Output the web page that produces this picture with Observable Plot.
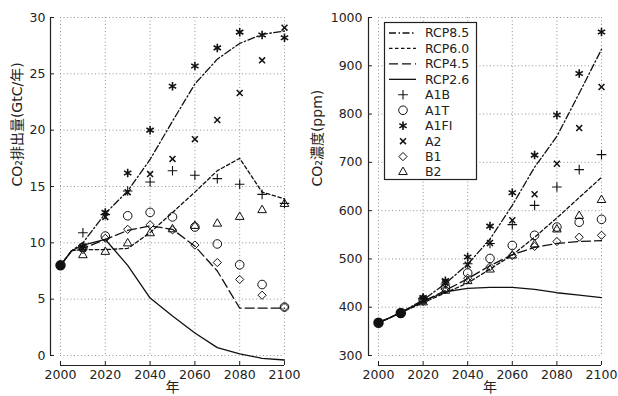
<!DOCTYPE html>
<html><head><meta charset="utf-8">
<script src="https://cdn.jsdelivr.net/npm/d3@7"></script>
<script src="https://cdn.jsdelivr.net/npm/@observablehq/plot@0.6"></script>
<style>
body{margin:0;background:#fff;}
#wrap{position:relative;width:618px;height:396px;display:flex;}
#wrap svg{font-family:"DejaVu Sans","Noto Sans CJK JP",sans-serif;overflow:visible;}
#legend{position:absolute;left:384px;top:22px;}
</style></head><body><div id="wrap"></div>
<script>
// ---- data ----
const rcpYears = [2000, 2005, 2010, 2020, 2030, 2040, 2050, 2060, 2070, 2080, 2090, 2100];
const rcpNames = ["RCP8.5", "RCP6.0", "RCP4.5", "RCP2.6"];
// emissions (GtC/yr)
const emisRCP85 = [8.0, 9.3, 10.0, 12.6, 14.6, 17.4, 20.8, 24.1, 26.3, 27.7, 28.5, 28.8];
const emisRCP60 = [8.0, 9.3, 9.4, 9.4, 9.5, 10.9, 12.7, 14.5, 16.4, 17.5, 14.5, 13.9];
const emisRCP45 = [8.0, 9.3, 9.5, 10.3, 11.1, 11.5, 11.2, 9.7, 7.5, 4.2, 4.2, 4.2];
const emisRCP26 = [8.0, 9.3, 9.8, 10.3, 8.0, 5.1, 3.5, 2.0, 0.7, 0.15, -0.25, -0.4];
// concentrations (ppm)
const concRCP85 = [368, 378, 389, 415, 449, 489, 541, 611, 690, 754, 843, 934];
const concRCP60 = [368, 378, 389, 409, 430, 450, 479, 508, 545, 585, 627, 669];
const concRCP45 = [368, 378, 389, 412, 435, 459, 486, 509, 524, 532, 536, 538];
const concRCP26 = [368, 378, 389, 412, 432, 439, 441, 441, 437, 430, 425, 420];

const sresNames = ["A1B", "A1T", "A1FI", "A2", "B1", "B2"];
const emisYears = [2010, 2020, 2030, 2040, 2050, 2060, 2070, 2080, 2090, 2100];
const emisA1B  = [10.9, 12.5, 14.6, 15.4, 16.4, 16.0, 15.7, 15.2, 14.3, 13.5];
const emisA1T  = [9.6, 10.6, 12.4, 12.7, 12.3, 11.4, 9.9, 8.05, 6.3, 4.3];
const emisA1FI = [9.7, 12.7, 16.2, 20.0, 23.9, 25.7, 27.3, 28.7, 28.45, 28.2];
const emisA2   = [9.5, 12.3, 14.5, 16.1, 17.45, 19.2, 20.9, 23.3, 26.2, 29.1];
const emisB1   = [9.4, 10.4, 11.2, 11.6, 11.15, 9.8, 8.25, 6.75, 5.35, 4.3];
const emisB2   = [8.9, 9.2, 9.95, 10.85, 11.2, 11.5, 11.7, 12.3, 12.9, 13.45];

const concYears = [2020, 2030, 2040, 2050, 2060, 2070, 2080, 2090, 2100];
const concA1B  = [418, 448, 490, 532, 571, 611, 649, 685, 716];
const concA1T  = [416, 441, 471, 501, 528, 549, 566, 576, 582];
const concA1FI = [420, 455, 504, 568, 637, 715, 798, 884, 970];
const concA2   = [415, 450, 488, 533, 580, 634, 697, 771, 856];
const concB1   = [412, 437, 460, 484, 507, 526, 536, 545, 549];
const concB2   = [410, 434, 454, 478, 507, 530, 561, 589, 622];

const obsEmisYears = [2000];
const obsEmis = [8.0];
const obsConcYears = [2000, 2010];
const obsConc = [368, 388];

const xTicks = [2000, 2020, 2040, 2060, 2080, 2100];
const emisTicks = [0, 5, 10, 15, 20, 25, 30];
const concTicks = [300, 400, 500, 600, 700, 800, 900, 1000];

// ---- styles ----
const dash = {"RCP8.5": "7,2.5,1.5,2.5", "RCP6.0": "3.5,2.5", "RCP4.5": "9,4", "RCP2.6": null};
const sym = {
  A1B: {symbol: "plus", r: 3.2, sw: 1.1},
  A1T: {symbol: "circle", r: 4.3, sw: 1},
  A1FI: {symbol: "asterisk", r: 4.0, sw: 1.6},
  A2: {symbol: "times", r: 2.8, sw: 1.5},
  B1: {symbol: "diamond2", r: 3.7, sw: 1},
  B2: {symbol: "triangle", r: 3.2, sw: 1}
};
const ink = "#111";

function rows(xs, ys) { return xs.map((x, i) => ({x, y: ys[i]})); }

function panel({rcp, sres, sresYears, obsX, obsY, yDomain, yTicks, ylabel, marginLeft, marginRight, ylabDx, tickPad}) {
  const marks = [
    Plot.gridX(xTicks, {stroke: "#888", strokeOpacity: 0.9, strokeDasharray: "1,2.5"}),
    Plot.gridY(yTicks, {stroke: "#888", strokeOpacity: 0.9, strokeDasharray: "1,2.5"}),
    Plot.ruleX([2000], {y1: yDomain[0], y2: yDomain[1], dx: -10, stroke: "#222", strokeWidth: 1.2}),
    Plot.ruleY([yDomain[0]], {x1: 2000, x2: 2100, dy: 10, stroke: "#222", strokeWidth: 1.2}),
    Plot.axisX(xTicks, {tickSize: -4, tickPadding: 9, dy: 10, tickFormat: d => String(d), label: null, fontSize: 12.5, stroke: "#222"}),
    Plot.axisY(yTicks, {tickSize: -4, tickPadding: tickPad, dx: -10, tickFormat: d => String(d), label: null, fontSize: 12.5, stroke: "#222"})
  ];
  rcpNames.forEach((n, i) => {
    marks.push(Plot.line(rows(rcpYears, rcp[i]), {x: "x", y: "y", stroke: ink, strokeWidth: 1.3,
      strokeDasharray: dash[n] || undefined}));
  });
  sresNames.forEach((n, i) => {
    const s = sym[n];
    marks.push(Plot.dot(rows(sresYears, sres[i]), {x: "x", y: "y", symbol: s.symbol, r: s.r,
      stroke: ink, strokeWidth: s.sw, fill: "none"}));
  });
  marks.push(Plot.dot(rows(obsX, obsY), {x: "x", y: "y", r: 4.5, fill: ink, stroke: ink}));
  marks.push(Plot.text([ylabel], {frameAnchor: "left", rotate: -90, dx: ylabDx, fontSize: 14, fill: "#222"}));
  marks.push(Plot.text(["年"], {frameAnchor: "bottom", dy: 36, fontSize: 14, fill: "#222"}));
  return Plot.plot({
    width: 309, height: 396,
    marginLeft, marginRight, marginTop: 17, marginBottom: 41,
    style: {color: "#222", background: "transparent", fontFamily: '"DejaVu Sans","Noto Sans CJK JP",sans-serif'},
    x: {domain: [2000, 2100]},
    y: {domain: yDomain},
    marks
  });
}

const wrap = document.getElementById("wrap");
wrap.appendChild(panel({
  rcp: [emisRCP85, emisRCP60, emisRCP45, emisRCP26],
  sres: [emisA1B, emisA1T, emisA1FI, emisA2, emisB1, emisB2],
  sresYears: emisYears, obsX: obsEmisYears, obsY: obsEmis,
  yDomain: [0, 30], yTicks: emisTicks, ylabel: "CO₂排出量(GtC/年)",
  marginLeft: 60, marginRight: 25, ylabDx: -43, tickPad: 9
}));
wrap.appendChild(panel({
  rcp: [concRCP85, concRCP60, concRCP45, concRCP26],
  sres: [concA1B, concA1T, concA1FI, concA2, concB1, concB2],
  sresYears: concYears, obsX: obsConcYears, obsY: obsConc,
  yDomain: [300, 1000], yTicks: concTicks, ylabel: "CO₂濃度(ppm)",
  marginLeft: 69, marginRight: 17, ylabDx: -61, tickPad: 10
}));

// ---- legend ----
const legendItems = rcpNames.concat(sresNames);
const lw = 92, lh = 157, rowH = 15.45;
const lg = d3.select(wrap).append("svg").attr("id", "legend").attr("width", lw + 2).attr("height", lh + 2);
lg.append("rect").attr("x", 0.5).attr("y", 0.5).attr("width", lw).attr("height", lh)
  .attr("fill", "#fff").attr("stroke", "#222").attr("stroke-width", 1.2);
const symMap = {plus: d3.symbolPlus, circle: d3.symbolCircle, asterisk: d3.symbolAsterisk,
  times: d3.symbolTimes, diamond2: d3.symbolDiamond2, triangle: d3.symbolTriangle};
legendItems.forEach((n, i) => {
  const cy = 11 + rowH * i;
  const g = lg.append("g");
  if (dash.hasOwnProperty(n)) {
    g.append("line").attr("x1", 5).attr("x2", 32).attr("y1", cy).attr("y2", cy)
      .attr("stroke", ink).attr("stroke-width", 1.3).attr("stroke-dasharray", dash[n]);
  } else {
    const s = sym[n];
    g.append("path").attr("transform", `translate(19,${cy})`)
      .attr("d", d3.symbol(symMap[s.symbol], s.r * s.r * Math.PI)())
      .attr("fill", "none").attr("stroke", ink).attr("stroke-width", s.sw);
  }
  g.append("text").attr("x", 41).attr("y", cy).attr("dy", "0.35em")
    .attr("font-size", 12.5).attr("fill", "#222").text(n);
});
</script></body></html>
